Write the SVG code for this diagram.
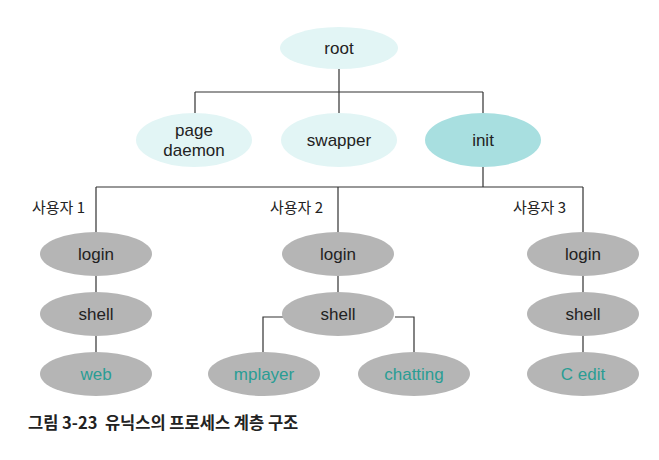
<svg xmlns="http://www.w3.org/2000/svg" width="659" height="460" viewBox="0 0 659 460">
<style>
.lt{fill:#e2f5f5}
.dk{fill:#a8dfe0}
.gr{fill:#b5b5b5}
.t{font-family:"Liberation Sans",Arial,sans-serif;font-size:17px;fill:#222;text-anchor:middle;dominant-baseline:central}
.leaf{fill:#2a9d94}
.u{font-family:"Noto Sans CJK KR","Liberation Sans",sans-serif;font-size:15px;fill:#222}
.cap{font-family:"Noto Sans CJK KR","Liberation Sans",sans-serif;font-size:16.5px;font-weight:bold;fill:#222}
.c{fill:none;stroke:#333;stroke-width:1.2}
</style>
<rect width="659" height="460" fill="#fff"/>
<g id="connectors">
<path class="c" d="M339 68V92M195 92H483M195 92V113M339 92V113M483 92V113"/>
<path class="c" d="M483 167V187M96 187H583M96 187V232M338 187V232M583 187V232"/>
<path class="c" d="M96 276V292M338 276V292M583 276V292"/>
<path class="c" d="M96 336V352M583 336V352"/>
<path class="c" d="M283 317H263V352M395 317H414V352"/>
</g>
<g id="root"><ellipse class="lt" cx="339" cy="48" rx="59" ry="21"/><text class="t" x="339" y="48">root</text></g>
<g id="pagedaemon"><ellipse class="lt" cx="194" cy="140" rx="58" ry="27"/><text class="t" x="194" y="130">page</text><text class="t" x="194" y="150">daemon</text></g>
<g id="swapper"><ellipse class="lt" cx="339" cy="140" rx="58" ry="27"/><text class="t" x="339" y="140">swapper</text></g>
<g id="init"><ellipse class="dk" cx="483" cy="140" rx="58" ry="27"/><text class="t" x="483" y="140">init</text></g>
<text class="u" x="32" y="213">사용자 1</text>
<text class="u" x="270" y="213">사용자 2</text>
<text class="u" x="513" y="213">사용자 3</text>
<g id="login1"><ellipse class="gr" cx="96" cy="254" rx="56" ry="22"/><text class="t" x="96" y="254">login</text></g>
<g id="login2"><ellipse class="gr" cx="338" cy="254" rx="56" ry="22"/><text class="t" x="338" y="254">login</text></g>
<g id="login3"><ellipse class="gr" cx="583" cy="254" rx="56" ry="22"/><text class="t" x="583" y="254">login</text></g>
<g id="shell1"><ellipse class="gr" cx="96" cy="314" rx="56" ry="22"/><text class="t" x="96" y="314">shell</text></g>
<g id="shell2"><ellipse class="gr" cx="338" cy="314" rx="56" ry="22"/><text class="t" x="338" y="314">shell</text></g>
<g id="shell3"><ellipse class="gr" cx="583" cy="314" rx="56" ry="22"/><text class="t" x="583" y="314">shell</text></g>
<g id="web"><ellipse class="gr" cx="96" cy="374" rx="56" ry="22"/><text class="t leaf" x="96" y="374">web</text></g>
<g id="mplayer"><ellipse class="gr" cx="264" cy="374" rx="56" ry="22"/><text class="t leaf" x="264" y="374">mplayer</text></g>
<g id="chatting"><ellipse class="gr" cx="414" cy="374" rx="56" ry="22"/><text class="t leaf" x="414" y="374">chatting</text></g>
<g id="cedit"><ellipse class="gr" cx="583" cy="374" rx="56" ry="22"/><text class="t leaf" x="583" y="374">C edit</text></g>
<text class="cap" x="28" y="429" xml:space="preserve">그림 3-23  유닉스의 프로세스 계층 구조</text>
</svg>
